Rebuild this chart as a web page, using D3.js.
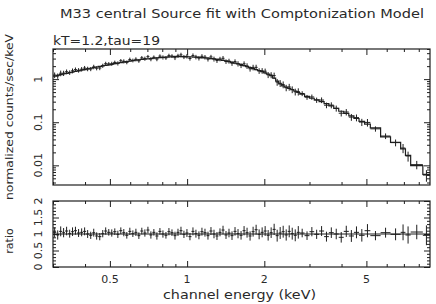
<!DOCTYPE html>
<html><head><meta charset="utf-8">
<script src="https://cdn.jsdelivr.net/npm/d3@7"></script>
<style>
body{margin:0;background:#fff}
svg{display:block}
text{font-family:"DejaVu Sans",sans-serif;fill:#2a2a2a}
</style>
</head><body><svg id="c" width="436" height="304"></svg>
<script>
// Channel bin edges (keV)
const binEdges = [
  0.300,0.309,0.317,0.326,0.334,0.344,0.353,0.362,0.372,0.383,
  0.393,0.404,0.415,0.427,0.438,0.450,0.463,0.475,0.488,0.502,
  0.515,0.530,0.544,0.559,0.574,0.590,0.606,0.623,0.640,0.657,
  0.675,0.694,0.713,0.732,0.752,0.773,0.794,0.816,0.838,0.861,
  0.885,0.909,0.934,0.959,0.985,1.012,1.040,1.068,1.097,1.127,
  1.158,1.190,1.222,1.256,1.290,1.325,1.362,1.399,1.437,1.476,
  1.517,1.558,1.601,1.645,1.690,1.736,1.784,1.833,1.883,1.935,
  1.988,2.042,2.098,2.155,2.214,2.275,2.337,2.401,2.467,2.535,
  2.604,2.676,2.750,2.87,3.00,3.13,3.27,3.42,3.57,3.73,
  3.90,4.08,4.27,4.47,4.68,4.92,5.18,5.68,6.21,6.80,
  7.10,7.44,8.30,8.85
];
// Model (normalized counts/sec/keV) per bin
const modelRate = [
  1.18,1.22,1.27,1.32,1.36,1.41,1.46,1.51,1.56,1.62,
  1.67,1.73,1.79,1.85,1.91,1.97,2.03,2.09,2.15,2.21,
  2.28,2.35,2.42,2.49,2.56,2.63,2.69,2.75,2.80,2.86,
  2.91,2.96,3.01,3.06,3.11,3.16,3.20,3.24,3.27,3.30,
  3.31,3.32,3.32,3.31,3.30,3.28,3.26,3.23,3.20,3.16,
  3.11,3.06,3.00,2.94,2.87,2.80,2.72,2.64,2.55,2.46,
  2.36,2.26,2.16,2.06,1.95,1.85,1.75,1.66,1.57,1.49,
  1.40,1.31,1.20,1.06,0.90,0.78,0.70,0.65,0.61,0.57,
  0.53,0.49,0.45,0.40,0.36,0.33,0.30,0.27,0.24,0.21,
  0.180,0.160,0.140,0.122,0.105,0.090,0.074,0.046,0.034,0.024,
  0.017,0.0098,0.0062
];
// data / model ratio per bin
const ratio = [
  1.05,0.97,1.08,1.04,1.09,1.01,1.07,1.10,1.03,1.05,
  1.08,1.00,0.96,1.04,0.94,0.92,1.01,1.09,1.05,1.03,
  1.07,0.99,1.10,1.04,0.96,1.08,1.01,1.05,0.95,1.09,
  1.03,1.12,0.97,1.05,0.94,1.08,1.00,0.96,1.07,1.04,
  0.95,1.05,1.10,0.99,1.03,0.92,1.08,1.01,0.96,1.07,
  1.04,0.95,1.09,1.00,0.94,1.05,1.12,0.97,1.03,0.95,
  1.08,1.01,0.96,1.10,1.04,0.94,1.07,1.13,0.99,1.05,
  1.09,0.96,1.04,1.14,0.95,1.03,1.07,0.97,1.08,1.01,
  0.96,1.05,1.03,0.95,1.07,0.99,1.09,0.92,1.04,1.00,
  0.90,1.08,0.94,1.05,0.96,1.10,0.95,1.04,0.99,1.05,
  0.97,1.06,0.96
];
// relative 1-sigma errors per bin
const relErr = [
  0.15,0.14,0.15,0.14,0.13,0.12,0.13,0.12,0.12,0.12,
  0.12,0.12,0.11,0.12,0.11,0.11,0.11,0.11,0.10,0.11,
  0.10,0.11,0.10,0.11,0.10,0.11,0.10,0.11,0.10,0.10,
  0.11,0.10,0.11,0.10,0.11,0.10,0.11,0.10,0.11,0.10,
  0.12,0.11,0.12,0.11,0.12,0.11,0.12,0.12,0.12,0.12,
  0.12,0.12,0.12,0.13,0.12,0.12,0.13,0.12,0.13,0.13,
  0.13,0.14,0.13,0.14,0.15,0.14,0.15,0.15,0.15,0.15,
  0.15,0.16,0.16,0.17,0.18,0.18,0.18,0.17,0.18,0.18,
  0.18,0.19,0.13,0.13,0.14,0.14,0.15,0.15,0.16,0.16,
  0.16,0.17,0.18,0.18,0.19,0.20,0.14,0.15,0.18,0.24,
  0.26,0.22,0.30
];
const xTickLabels = [0.5, 1, 2, 5];
const yTickLabels = [1, 0.1, 0.01];
const ratioTickLabels = [0, 0.5, 1, 1.5, 2];
const titleText = "M33 central Source fit with Comptonization Model";
const subtitleText = "kT=1.2,tau=19";
const xTitleText = "channel energy (keV)";
const yTitleText = "normalized counts/sec/keV";
const ratioTitleText = "ratio";

const L = 53, R = 430, T1 = 49, B1 = 185, T2 = 201, B2 = 267;
const ink = "#1e1e1e";
const svg = d3.select("#c");

const x = d3.scaleLog().domain([0.3, 8.85]).range([L, R]);
const y = d3.scaleLog().domain([0.0035, 5]).range([B1, T1]);
const yr = d3.scaleLinear().domain([0, 2]).range([B2, T2]);

const bins = modelRate.map((m, i) => ({
  x0: binEdges[i], x1: binEdges[i + 1], xc: Math.sqrt(binEdges[i] * binEdges[i + 1]),
  model: m, ratio: ratio[i], err: relErr[i], data: m * ratio[i]
}));

// ---------- axes helper ----------
function drawAxes(g, yScale, yMajor, yMinor, top, bottom) {
  const xMinor = x.ticks().filter(v => !xTickLabels.includes(v));
  const mk = (axisFn, scale, vals, size, tr) => {
    const a = g.append("g").attr("transform", tr)
      .call(axisFn(scale).tickValues(vals).tickSize(-size).tickSizeOuter(0).tickFormat(""));
    a.select(".domain").remove();
    a.selectAll("line").attr("stroke", ink);
  };
  mk(d3.axisBottom, x, xTickLabels, 6, `translate(0,${bottom})`);
  mk(d3.axisBottom, x, xMinor, 3, `translate(0,${bottom})`);
  mk(d3.axisTop, x, xTickLabels, 6, `translate(0,${top})`);
  mk(d3.axisTop, x, xMinor, 3, `translate(0,${top})`);
  mk(d3.axisLeft, yScale, yMajor, 6, `translate(${L},0)`);
  mk(d3.axisLeft, yScale, yMinor, 3, `translate(${L},0)`);
  mk(d3.axisRight, yScale, yMajor, 6, `translate(${R},0)`);
  mk(d3.axisRight, yScale, yMinor, 3, `translate(${R},0)`);
  g.append("rect").attr("x", L).attr("y", top).attr("width", R - L).attr("height", bottom - top)
    .attr("fill", "none").attr("stroke", ink).attr("stroke-width", 1.2);
}

// ---------- top panel ----------
const g1 = svg.append("g");
const yMinor = y.ticks().filter(v => !yTickLabels.some(t => Math.abs(t - v) < 1e-9));
drawAxes(g1, y, yTickLabels, yMinor, T1, B1);

// data crosses
const cr = g1.append("g").attr("stroke", ink).attr("stroke-width", 1);
cr.selectAll(".h").data(bins).join("line")
  .attr("x1", d => x(d.x0)).attr("x2", d => x(d.x1))
  .attr("y1", d => y(d.data)).attr("y2", d => y(d.data));
cr.selectAll(".v").data(bins).join("line")
  .attr("x1", d => x(d.xc)).attr("x2", d => x(d.xc))
  .attr("y1", d => y(d.data * (1 - d.err))).attr("y2", d => y(d.data * (1 + d.err)));

// model histogram
const stepPts = bins.flatMap(d => [[d.x0, d.model], [d.x1, d.model]]);
g1.append("path").datum(stepPts)
  .attr("d", d3.line().x(p => x(p[0])).y(p => y(p[1])))
  .attr("fill", "none").attr("stroke", ink).attr("stroke-width", 1.2);

// y labels
g1.selectAll(".yl").data(yTickLabels).join("text")
  .attr("transform", d => `translate(42,${y(d)}) rotate(-90)`)
  .attr("text-anchor", "middle").attr("font-size", 11).text(d => d);

// ---------- ratio panel ----------
const g2 = svg.append("g");
const rAll = yr.ticks(20);
const rMinor = rAll.filter(v => !ratioTickLabels.some(t => Math.abs(t - v) < 1e-9));
drawAxes(g2, yr, ratioTickLabels, rMinor, T2, B2);

g2.append("line").attr("x1", L).attr("x2", R).attr("y1", yr(1)).attr("y2", yr(1))
  .attr("stroke", ink).attr("stroke-width", 1);

const cr2 = g2.append("g").attr("stroke", ink).attr("stroke-width", 1);
cr2.selectAll(".h").data(bins).join("line")
  .attr("x1", d => x(d.x0)).attr("x2", d => x(d.x1))
  .attr("y1", d => yr(d.ratio)).attr("y2", d => yr(d.ratio));
cr2.selectAll(".v").data(bins).join("line")
  .attr("x1", d => x(d.xc)).attr("x2", d => x(d.xc))
  .attr("y1", d => yr(d.ratio - d.err)).attr("y2", d => yr(d.ratio + d.err));

g2.selectAll(".rl").data(ratioTickLabels).join("text")
  .attr("transform", d => `translate(42,${yr(d)}) rotate(-90)`)
  .attr("text-anchor", "middle").attr("font-size", 11).text(d => d);

// x labels
svg.selectAll(".xl").data(xTickLabels).join("text")
  .attr("x", d => x(d)).attr("y", 283)
  .attr("text-anchor", "middle").attr("font-size", 11).text(d => d);

// titles
svg.append("text").attr("x", 60).attr("y", 18).attr("font-size", 12)
  .attr("textLength", 364).attr("lengthAdjust", "spacingAndGlyphs").text(titleText);
svg.append("text").attr("x", 53).attr("y", 45).attr("font-size", 12)
  .attr("textLength", 107).attr("lengthAdjust", "spacingAndGlyphs").text(subtitleText);
svg.append("text").attr("x", 163).attr("y", 299).attr("font-size", 12)
  .attr("textLength", 153).attr("lengthAdjust", "spacingAndGlyphs").text(xTitleText);
svg.append("text").attr("transform", "translate(13,117) rotate(-90)")
  .attr("text-anchor", "middle").attr("font-size", 11)
  .attr("textLength", 166).attr("lengthAdjust", "spacingAndGlyphs").text(yTitleText);
svg.append("text").attr("transform", "translate(13,241) rotate(-90)")
  .attr("text-anchor", "middle").attr("font-size", 11).text(ratioTitleText);
</script>
</body></html>
